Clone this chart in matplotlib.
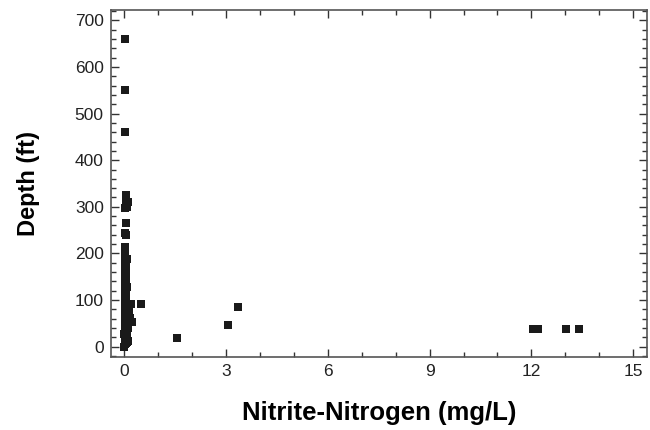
import matplotlib
matplotlib.use("Agg")
from matplotlib import pyplot as plt
from matplotlib.ticker import MultipleLocator

plt.rcParams['font.family'] = ['Liberation Sans', 'DejaVu Sans']

# Nitrite-nitrogen (mg/L) and depth (ft) samples
nitrite = [0.00, 0.02, 0.05, 0.08, 0.11, 0.03, 0.06, 0.01, 0.09, 0.04,
           0.00, 0.07, 0.03, 0.05, 0.02, 0.10, 0.04, 0.06, 0.01, 0.08,
           0.23, 0.05, 0.12, 0.03, 0.18, 0.06, 0.02, 0.09, 0.04, 0.14,
           0.07, 0.02, 0.10, 0.05, 0.03, 0.08, 0.20, 0.04, 0.06, 0.01,
           0.03, 0.05, 0.02, 0.04, 0.06, 0.01, 0.03, 0.05, 0.02, 0.04,
           0.03, 0.01, 0.04, 0.02, 0.03, 0.05, 0.01, 0.02, 0.03, 0.02,
           0.05, 0.03, 0.06, 0.08, 0.05, 0.10, 0.06, 0.04, 0.03, 0.02,
           0.02, 0.01, 0.50, 1.55, 3.05, 3.35, 12.05, 12.18, 13.03, 13.41,
           0.06, 0.07, 0.05, 0.06, 0.07, 0.05]
depth = [0, 5, 8, 10, 12, 15, 18, 20, 22, 25,
         28, 30, 32, 35, 38, 40, 42, 45, 48, 50,
         52, 55, 58, 60, 62, 65, 68, 70, 72, 75,
         78, 80, 82, 85, 88, 90, 92, 95, 98, 100,
         105, 110, 115, 120, 125, 130, 135, 140, 145, 150,
         155, 160, 165, 170, 175, 180, 185, 190, 197, 214,
         240, 243, 266, 300, 305, 311, 318, 325, 298, 460,
         550, 660, 92, 18, 46, 85, 37, 37, 37, 37,
         108, 128, 148, 168, 188, 118]

x_ticks = [0, 3, 6, 9, 12, 15]
y_ticks = [0, 100, 200, 300, 400, 500, 600, 700]

fig = plt.figure(figsize=(6.5, 4.3), dpi=100)
ax = fig.add_axes([0.1703, 0.1698, 0.8247, 0.8069])

ax.scatter(nitrite, depth, marker='s', s=34, color='#1a1a1a', linewidths=0, zorder=3)

ax.set_xlim(-0.4, 15.4)
ax.set_ylim(-22, 722)
ax.set_xticks(x_ticks)
ax.set_yticks(y_ticks)
ax.xaxis.set_minor_locator(MultipleLocator(1))
ax.yaxis.set_minor_locator(MultipleLocator(20))

ax.tick_params(which='both', direction='in', top=True, right=True,
               color='#333333', width=1, labelsize=12.5, labelcolor='#222222')
ax.tick_params(which='major', length=6)
ax.tick_params(which='minor', length=3.5)
ax.tick_params(axis='x', which='major', pad=5)
ax.tick_params(axis='y', which='major', pad=5)

for sp in ax.spines.values():
    sp.set_color('#555555')
    sp.set_linewidth(1.2)

ax.set_xlabel('Nitrite-Nitrogen (mg/L)', fontsize=18.5, fontweight='bold', labelpad=16)
ax.set_ylabel('Depth (ft)', fontsize=17, fontweight='bold', labelpad=25)

fig.savefig('out.png', dpi=100)
